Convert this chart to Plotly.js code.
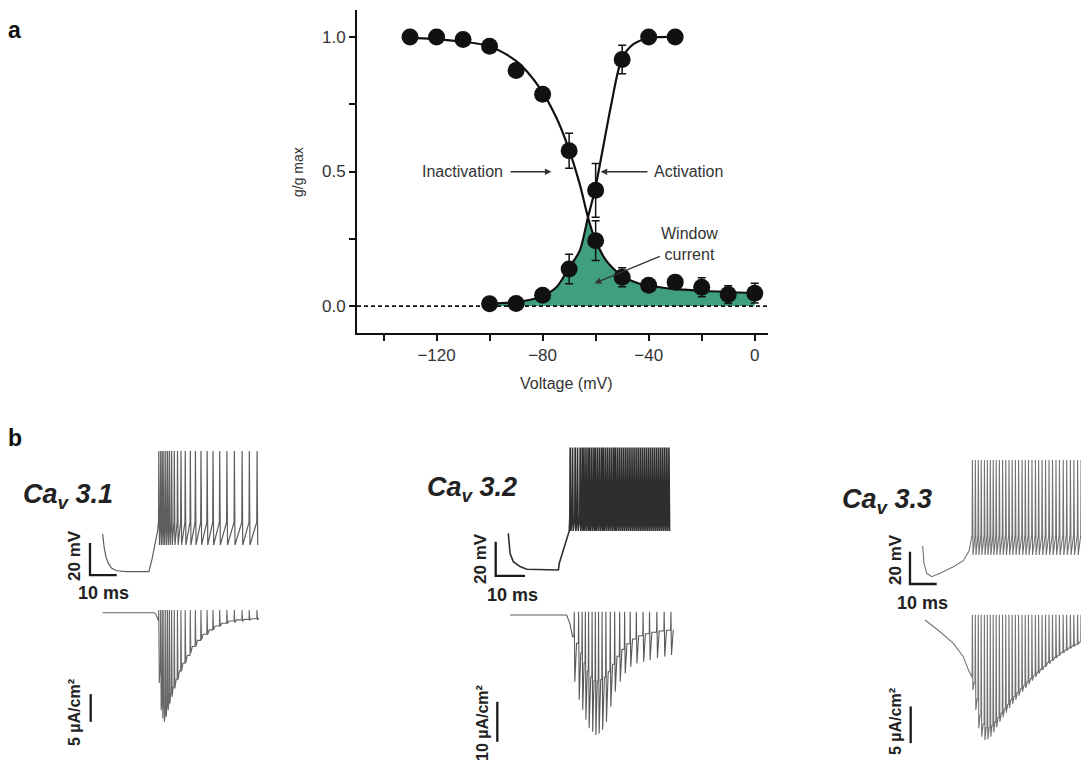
<!DOCTYPE html>
<html><head><meta charset="utf-8">
<script src="https://cdn.plot.ly/plotly-3.0.1.min.js"></script>
<style>body{margin:0;background:#fff}#chart{width:1081px;height:770px}</style>
</head><body><div id="chart"></div>
<script>
// ---------- Panel a data ----------
const inactV = [-130,-120,-110,-100,-90,-80,-70,-60,-50,-40,-30,-20,-10,0];
const inactG = [1.0,1.0,0.99,0.965,0.875,0.787,0.577,0.243,0.107,0.077,0.089,0.07,0.043,0.048];
const inactErr = [0,0,0,0,0,0,0.065,0.074,0.035,0,0.018,0.035,0.033,0.037];
const actV = [-100,-90,-80,-70,-60,-50,-40,-30];
const actG = [0.009,0.01,0.04,0.138,0.43,0.916,1.0,1.0];
const actErr = [0,0,0,0.055,0.1,0.053,0.015,0];
const inactFitV = [-130.4,-115,-100.3,-89.9,-81.1,-74.8,-70.3,-66.0,-62.9,-60.3,-56.0,-50.2,-43.4,-30.8,-18.2,0];
const inactFitG = [0.997,0.987,0.966,0.910,0.811,0.700,0.589,0.453,0.330,0.250,0.169,0.114,0.083,0.064,0.056,0.048];
const actFitV = [-100,-90,-81.1,-74.8,-70.3,-66,-62.9,-60.3,-57.2,-54.1,-50.2,-45.9,-40,-30];
const actFitG = [0.009,0.015,0.033,0.07,0.138,0.206,0.33,0.43,0.589,0.75,0.916,0.972,0.995,1.0];
const windowV = [-100,-90,-81.1,-74.8,-70.3,-66,-62.9,-60.3,-56,-50.2,-43.4,-30.8,-18.2,0];
const windowG = [0.009,0.015,0.033,0.07,0.138,0.206,0.33,0.25,0.169,0.114,0.083,0.064,0.056,0.048];

// ---------- Panel b data (ms, mV, µA/cm²) ----------
const cellNames = ['3.1','3.2','3.3'];
const scaleMV = [20,20,20];
const scaleMs = [10,10,10];
const scaleCurrent = [5,10,5];
const currentLabels = ['5 \u00b5A/cm\u00b2','10 \u00b5A/cm\u00b2','5 \u00b5A/cm\u00b2'];

// Cav3.1
const c31PreT = [0,0.5,1.2,2.1,3.4,5.2,9,17.3,18.5,19.6,20.6];
const c31PreV = [-51.4,-59.4,-65.6,-69.8,-72.9,-74.4,-75,-75,-67,-58,-49];
const c31SpikeT = [20.9,21.6,22.2,22.8,23.5,24.2,24.9,25.7,26.7,27.9,29.2,30.8,32.7,34.6,36.7,39.0,41.2,43.7,46.4,49.2,52.1,54.8,57.7];
const c31VLevels = [-44,0.4,-58.3]; // threshold, peak, trough
const c31PreIT = [0,19.3,19.9,20.4,20.8];
const c31PreI = [0,0,-0.3,-0.8,-1.5];
const c31ITop = 0.5;
const c31IBottom = [-12.7,-17.6,-19.1,-19.7,-18.8,-17.6,-16.4,-15.2,-13.7,-12.1,-10.6,-9.1,-7.3,-6.1,-4.9,-4.0,-3.1,-2.5,-2.0,-1.8,-1.6,-1.4,-1.3];
const c31IInter = [-10.5,-15.5,-17.2,-17.8,-17.0,-15.8,-14.6,-13.4,-12.0,-10.5,-9.1,-7.7,-6.1,-5.0,-3.9,-3.1,-2.4,-1.9,-1.5,-1.3,-1.2,-1.1,-1.0];

// Cav3.2
const c32PreT = [0,0.6,1.7,4,6.3,17.1,17.4,18.8,19.9,20.8];
const c32PreV = [-53.4,-65.2,-70.1,-73,-74.6,-75,-71,-63.2,-57.4,-52];
const c32SpikeT = [21.0,21.8,22.7,23.5,24.4,25.1,25.7,26.4,27.1,27.7,28.4,29.1,29.7,30.4,31.1,31.8,32.4,33.1,33.8,34.5,35.2,35.9,36.5,37.2,37.9,38.6,39.3,40.0,40.7,41.4,42.1,42.8,43.5,44.2,44.9,45.6,46.3,47.0,47.7,48.4,49.1,49.8,50.5,51.2,51.9,52.6,53.3,54.0,54.7];
const c32VLevels = [-44,-3,-52];
const c32PreIT = [0.6,19.9,21.0,21.9];
const c32PreI = [0,0,-2.1,-5.4];
const c32ISpikeT = [22.4,23.9,25.1,26.2,27.3,28.5,29.6,30.7,31.9,33.2,34.7,36.2,37.9,39.6,41.5,43.6,45.9,48.1,50.6,53.1,55.4];
const c32ITop = 0.8;
const c32IBottom = [-16.7,-21.2,-23.7,-26.2,-28.3,-29.2,-30.0,-29.6,-28.7,-26.7,-22.9,-19.2,-16.7,-14.6,-12.9,-12.1,-11.7,-11.25,-10.8,-10.4,-10.0];
const c32IInter = [-7.1,-9.5,-12,-14,-15.5,-16.3,-16.5,-16.2,-15.5,-14.2,-12.3,-10.3,-8.6,-7.2,-6.0,-5.2,-4.7,-4.3,-4.0,-3.8,-3.7];

// Cav3.3
const c33PreT = [0,0.5,1.5,3.4,6.5,11.5,15.2,17.4];
const c33PreV = [-59,-69.7,-75.9,-78,-75.9,-71.8,-68.1,-62];
const c33SpikeT = [18.5,19.6,20.7,21.8,23.0,24.1,25.2,26.3,27.4,28.6,29.8,31.0,32.2,33.4,34.6,35.8,37.1,38.3,39.5,40.8,42.1,43.3,44.6,45.9,47.2,48.5,49.8,51.1,52.5,53.8,55.2,56.5,57.9,59.2];
const c33VLevels = [-52.2,-5.8,-64.6];
const c33PreIT = [0.9,6.5,11.5,15.2,17.1,18.3];
const c33PreI = [0,-1.6,-3.2,-5.0,-6.8,-7.8];
const c33ITop = 0.7;
const c33IBottom = [-9.55,-12.28,-14.78,-15.92,-16.37,-16.28,-15.92,-15.33,-14.64,-13.92,-13.28,-12.64,-12.0,-11.46,-10.91,-10.32,-9.78,-9.28,-8.78,-8.28,-7.78,-7.32,-6.87,-6.37,-5.96,-5.55,-5.19,-4.82,-4.5,-4.18,-3.87,-3.59,-3.32,-3.09];
const c33IInter = [-8.5,-10.8,-13.0,-14.2,-14.7,-14.7,-14.4,-13.9,-13.3,-12.7,-12.1,-11.5,-10.9,-10.4,-9.9,-9.4,-8.9,-8.4,-8.0,-7.5,-7.1,-6.7,-6.3,-5.8,-5.5,-5.1,-4.8,-4.4,-4.1,-3.8,-3.5,-3.3,-3.0,-2.8];

// ---------- layout geometry ----------
const W = 1081, H = 770;
const FONT = 'Liberation Sans, Arial, sans-serif';

function voltageTrain(preT, preV, times, levels) {
  const x = preT.slice(), y = preV.slice();
  times.forEach(t => { x.push(t, t + 0.12, t + 0.35); y.push(levels[0], levels[1], levels[2]); });
  return {x, y};
}
function currentTrain(preT, preI, times, top, bottoms, inters) {
  const x = preT.slice(), y = preI.slice();
  times.forEach((t, i) => {
    const prev = i === 0 ? preI[preI.length - 1] : inters[i - 1];
    const gap = (i < times.length - 1 ? times[i + 1] : t + 1.5) - t;
    x.push(t, t + 0.1, t + 0.3, t + Math.min(0.9, 0.7 * gap));
    y.push(prev, top, bottoms[i], inters[i]);
  });
  return {x, y};
}

const tickStyle = {ticks: 'outside', ticklen: 6, tickwidth: 2, tickcolor: '#111'};
const layout = {
  width: W, height: H, margin: {l:0, r:0, t:0, b:0, pad:0},
  paper_bgcolor: '#fff', plot_bgcolor: 'rgba(0,0,0,0)', showlegend: false,
  font: {family: FONT, color: '#222'},
  xaxis: Object.assign({domain: [357/W, 768/W], range: [-150, 5], showline: true, linecolor: '#111', linewidth: 2,
    tickmode: 'linear', tick0: 0, dtick: 40, minor: Object.assign({dtick: 20, tick0: 0}, tickStyle),
    tickfont: {size: 17, color: '#333', family: FONT}, showgrid: false, zeroline: false, fixedrange: true, anchor: 'y'}, tickStyle),
  yaxis: Object.assign({domain: [1-333/H, 1-10/H], range: [-0.1, 1.1], showline: true, linecolor: '#111', linewidth: 2,
    tickmode: 'linear', tick0: 0, dtick: 0.5, tickformat: '.1f', minor: Object.assign({dtick: 0.25, tick0: 0}, tickStyle),
    tickfont: {size: 17, color: '#333', family: FONT}, showgrid: false, zeroline: false, fixedrange: true, anchor: 'x'}, tickStyle),
  shapes: [{type: 'line', xref: 'x', yref: 'y', x0: -150, x1: 5, y0: 0, y1: 0, line: {color: '#111', width: 1.6, dash: '4px,3px'}}],
  annotations: []
};

const bare = {showticklabels: false, showline: false, ticks: '', showgrid: false, zeroline: false, fixedrange: true};
function addBox(id, pxL, pxR, pxT, pxB, x0px, pxPerX, y0px, yRef, pxPerY) {
  layout['xaxis' + id] = Object.assign({domain: [pxL/W, pxR/W], range: [(pxL - x0px)/pxPerX, (pxR - x0px)/pxPerX], anchor: 'y' + id}, bare);
  layout['yaxis' + id] = Object.assign({domain: [1 - pxB/H, 1 - pxT/H], range: [yRef - (pxB - y0px)/pxPerY, yRef + (y0px - pxT)/pxPerY], anchor: 'x' + id}, bare);
}
addBox(2, 60, 265, 445, 598, 102.7, 2.67, 571.7, -75, 1.6);
addBox(3, 60, 265, 600, 732, 102.7, 2.67, 612.7, 0, 5.54);
addBox(4, 470, 675, 440, 598, 508.3, 2.93, 570, -75, 1.7);
addBox(5, 470, 675, 600, 752, 508.3, 2.93, 615, 0, 4.0);
addBox(6, 880, 1081, 445, 600, 922.7, 2.67, 576.7, -78, 1.617);
addBox(7, 880, 1081, 605, 752, 922.7, 2.67, 620, 0, 7.33);

const vBarOrigin = [[-4.76,-77.1],[-4.3,-78.4],[-4.76,-82.5]];
const iBarOrigin = [[-4.5,-19.7],[-3.75,-31.7],[-4.5,-16.8]];

const traces = [];
traces.push({x: windowV, y: windowG, type: 'scatter', mode: 'lines', fill: 'tozeroy', fillcolor: '#3f9f80',
  line: {width: 0, color: '#3f9f80'}, hoverinfo: 'skip', xaxis: 'x', yaxis: 'y'});
traces.push({x: inactFitV, y: inactFitG, type: 'scatter', mode: 'lines', line: {color: '#111', width: 2.2, shape: 'spline', smoothing: 0.8}, xaxis: 'x', yaxis: 'y'});
traces.push({x: actFitV, y: actFitG, type: 'scatter', mode: 'lines', line: {color: '#111', width: 2.2, shape: 'spline', smoothing: 0.8}, xaxis: 'x', yaxis: 'y'});
traces.push({x: inactV, y: inactG, type: 'scatter', mode: 'markers', marker: {size: 17, color: '#111'},
  error_y: {type: 'data', array: inactErr, visible: true, color: '#111', thickness: 1.5, width: 4}, xaxis: 'x', yaxis: 'y'});
traces.push({x: actV, y: actG, type: 'scatter', mode: 'markers', marker: {size: 17, color: '#111'},
  error_y: {type: 'data', array: actErr, visible: true, color: '#111', thickness: 1.5, width: 4}, xaxis: 'x', yaxis: 'y'});

const vTrains = [
  voltageTrain(c31PreT, c31PreV, c31SpikeT, c31VLevels),
  voltageTrain(c32PreT, c32PreV, c32SpikeT, c32VLevels),
  voltageTrain(c33PreT, c33PreV, c33SpikeT, c33VLevels)];
const iTrains = [
  currentTrain(c31PreIT, c31PreI, c31SpikeT, c31ITop, c31IBottom, c31IInter),
  currentTrain(c32PreIT, c32PreI, c32ISpikeT, c32ITop, c32IBottom, c32IInter),
  currentTrain(c33PreIT, c33PreI, c33SpikeT, c33ITop, c33IBottom, c33IInter)];
const vColors = ['#5e5e5e', '#2e2e2e', '#727272'];
const vWidths = [1.2, 1.6, 1.1];
const iColors = ['#666', '#5a5a5a', '#737373'];
for (let k = 0; k < 3; k++) {
  const xa = 'x' + (2 + 2*k), ya = 'y' + (2 + 2*k), xb = 'x' + (3 + 2*k), yb = 'y' + (3 + 2*k);
  traces.push({x: vTrains[k].x, y: vTrains[k].y, type: 'scatter', mode: 'lines', line: {color: vColors[k], width: vWidths[k]}, xaxis: xa, yaxis: ya, hoverinfo: 'skip'});
  traces.push({x: iTrains[k].x, y: iTrains[k].y, type: 'scatter', mode: 'lines', line: {color: iColors[k], width: 1.1}, xaxis: xb, yaxis: yb, hoverinfo: 'skip'});
  const o = vBarOrigin[k];
  traces.push({x: [o[0], o[0], o[0] + scaleMs[k]], y: [o[1] + scaleMV[k], o[1], o[1]], type: 'scatter', mode: 'lines',
    line: {color: '#1a1a1a', width: 2.3}, xaxis: xa, yaxis: ya, hoverinfo: 'skip'});
  const q = iBarOrigin[k];
  traces.push({x: [q[0], q[0]], y: [q[1], q[1] + scaleCurrent[k]], type: 'scatter', mode: 'lines',
    line: {color: '#1a1a1a', width: 2.3}, xaxis: xb, yaxis: yb, hoverinfo: 'skip'});
}

function pa(text, px, py, opts) {
  layout.annotations.push(Object.assign({text: text, x: px/W, y: 1 - py/H, xref: 'paper', yref: 'paper',
    showarrow: false, xanchor: 'center', yanchor: 'middle', font: {family: FONT, size: 17, color: '#222'}}, opts || {}));
}
pa('<b>a</b>', 15, 30, {font: {family: FONT, size: 23, color: '#111'}});
pa('<b>b</b>', 15, 438, {font: {family: FONT, size: 23, color: '#111'}});
pa('Voltage (mV)', 566, 383, {font: {family: FONT, size: 16, color: '#333'}});
pa('g/g max', 298, 172, {textangle: -90, font: {family: FONT, size: 14, color: '#333'}});

const arrowStyle = {xref: 'x', yref: 'y', axref: 'x', ayref: 'y', showarrow: true, arrowhead: 2, arrowsize: 1,
  arrowwidth: 1.3, arrowcolor: '#333', standoff: 0, font: {family: FONT, size: 16, color: '#333'}};
layout.annotations.push(Object.assign({text: 'Inactivation', x: -76.7, y: 0.499, ax: -110.2, ay: 0.499, startstandoff: 6}, arrowStyle));
layout.annotations.push(Object.assign({text: 'Activation', x: -58.1, y: 0.499, ax: -25, ay: 0.499, startstandoff: 5}, arrowStyle));
layout.annotations.push(Object.assign({text: 'Window<br>current', x: -60.4, y: 0.085, ax: -24.5, ay: 0.23, startstandoff: 0}, arrowStyle));

const titlePos = [[68, 496], [472, 489], [887, 501]];
const mvPos = [[74, 556], [480, 558], [895, 560]];
const msPos = [[103, 593], [512, 595], [922, 603]];
const curPos = [[74, 713], [482, 723], [895, 722]];
for (let k = 0; k < 3; k++) {
  pa('<b><i>Ca<sub>v</sub> ' + cellNames[k] + '</i></b>', titlePos[k][0], titlePos[k][1], {font: {family: FONT, size: 27, color: '#222'}});
  pa('<b>20 mV</b>', mvPos[k][0], mvPos[k][1], {textangle: -90, font: {family: FONT, size: 17, color: '#222'}});
  pa('<b>10 ms</b>', msPos[k][0], msPos[k][1], {font: {family: FONT, size: 18, color: '#222'}});
  pa('<b>' + currentLabels[k] + '</b>', curPos[k][0], curPos[k][1], {textangle: -90, font: {family: FONT, size: 16, color: '#222'}});
}

Plotly.newPlot('chart', traces, layout, {staticPlot: true, displayModeBar: false});
</script></body></html>
